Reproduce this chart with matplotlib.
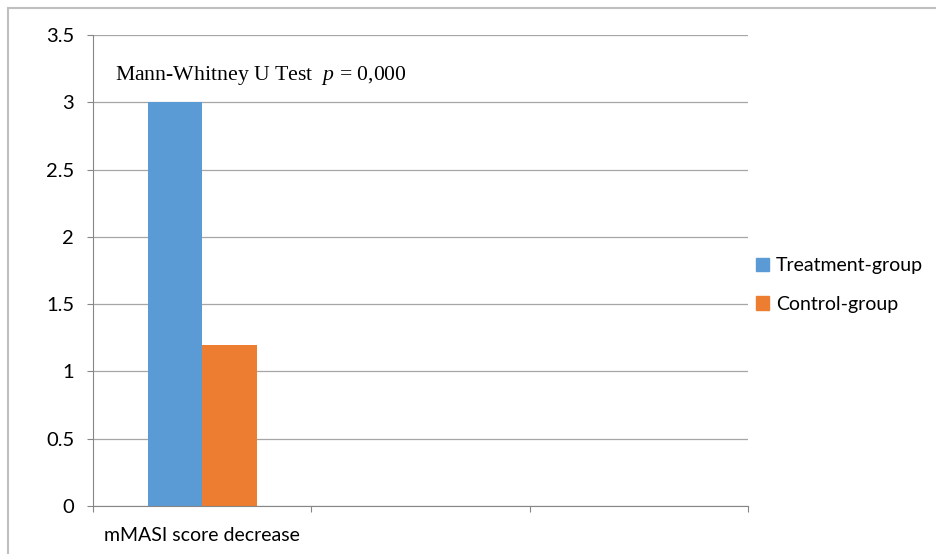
import numpy as np
import matplotlib.pyplot as plt
from matplotlib.patches import Rectangle, Patch

categories = ['mMASI score decrease', '', '']
treatment = [3.0, np.nan, np.nan]
control = [1.2, np.nan, np.nan]
series_names = ['Treatment-group', 'Control-group']
yticks = [0, 0.5, 1, 1.5, 2, 2.5, 3, 3.5]
ytick_labels = ['0', '0.5', '1', '1.5', '2', '2.5', '3', '3.5']

plt.rcParams['font.family'] = ['Lato', 'DejaVu Sans']
plt.rcParams['mathtext.fontset'] = 'custom'
plt.rcParams['mathtext.it'] = 'Liberation Serif:italic'
plt.rcParams['mathtext.rm'] = 'Liberation Serif'

fig = plt.figure(figsize=(9.37, 5.54), dpi=100)
W, H = 937, 554
ax = fig.add_axes([93 / W, 1 - 506 / H, (748 - 93) / W, (506 - 35) / H])

# light border around the chart area
fig.patches.append(Rectangle((8 / W, -0.1), 1.1, 1 - 8 / H + 0.1, transform=fig.transFigure,
                             fill=False, edgecolor='#bfbfbf', linewidth=1.5))

x = np.arange(len(categories))
w = 0.25
ax.bar(x - w / 2, treatment, w, color='#5b9bd5', label=series_names[0])
ax.bar(x + w / 2, control, w, color='#ed7d31', label=series_names[1])

ax.set_xlim(-0.5, 2.5)
ax.set_ylim(0, 3.5)
ax.set_yticks(yticks)
ax.set_yticklabels(ytick_labels)
ax.set_xticks([-0.5, 0.5, 1.5, 2.5])
ax.set_xticklabels([])
ax.set_xticks(x, minor=True)
ax.set_xticklabels(categories, minor=True)
ax.tick_params(axis='x', which='minor', length=0, pad=15, labelsize=14)
ax.tick_params(axis='x', which='major', length=4.5, color='#868686', direction='out')
ax.tick_params(axis='y', length=4.5, color='#868686', labelsize=14.5, pad=9)

ax.grid(axis='y', color='#a6a6a6', linewidth=0.9)
ax.set_axisbelow(True)
for s in ['top', 'right']:
    ax.spines[s].set_visible(False)
for s in ['left', 'bottom']:
    ax.spines[s].set_color('#868686')

ax.text(115 / W, 1 - 80 / H, 'Mann-Whitney U Test  $p$ = 0,000', transform=fig.transFigure,
        fontsize=15.7, family='Liberation Serif', va='baseline')

handles = [Patch(color='#5b9bd5'), Patch(color='#ed7d31')]
fig.legend(handles, series_names, loc='center left', bbox_to_anchor=(746 / W, 1 - 285 / H),
           frameon=False, fontsize=14, handlelength=0.7, handleheight=0.7,
           handletextpad=0.35, labelspacing=1.1, borderpad=0)

fig.savefig('out.png', dpi=100)
